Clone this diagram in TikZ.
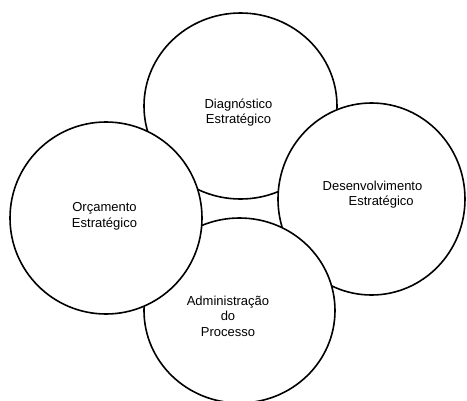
\documentclass[tikz,border=0pt]{standalone}
\usepackage{fontspec}
\setmainfont{Liberation Sans}
\usetikzlibrary{shapes.geometric}
\begin{document}
\begin{tikzpicture}[x=1pt,y=-1pt,
  bubble/.style={ellipse,draw=black,fill=white,line width=1.6pt,inner sep=0pt},
  lbl/.style={font=\fontsize{13}{15.5}\selectfont,align=center,inner sep=0pt}]
  \useasboundingbox (0,0) rectangle (467,400);
  \begin{scope}
    \clip (0,0) rectangle (467,400);
    % stacking order: top, right, bottom, left
    \node[bubble,minimum width=193pt,minimum height=186pt] (diag) at (240.5,106) {};
    \node[bubble,minimum width=187pt,minimum height=192pt] (desenv) at (371.5,199) {};
    \node[bubble,minimum width=191pt,minimum height=185pt] (admin) at (239.5,310.5) {};
    \node[bubble,minimum width=192pt,minimum height=192pt] (orc) at (106,218) {};
  \end{scope}
  \node[lbl] (tdiag) at (238.5,112.5) {Diagnóstico\\Estratégico};
  \node[lbl] (torc) at (104.5,216.5) {Orçamento\\Estratégico};
  \node[lbl,align=left] (tdesenv) at (372.5,194.5) {Desenvolvimento\\\hspace*{26pt}Estratégico};
  \node[lbl] (tadmin) at (228,316) {Administração\\do\\Processo};
\end{tikzpicture}
\end{document}
